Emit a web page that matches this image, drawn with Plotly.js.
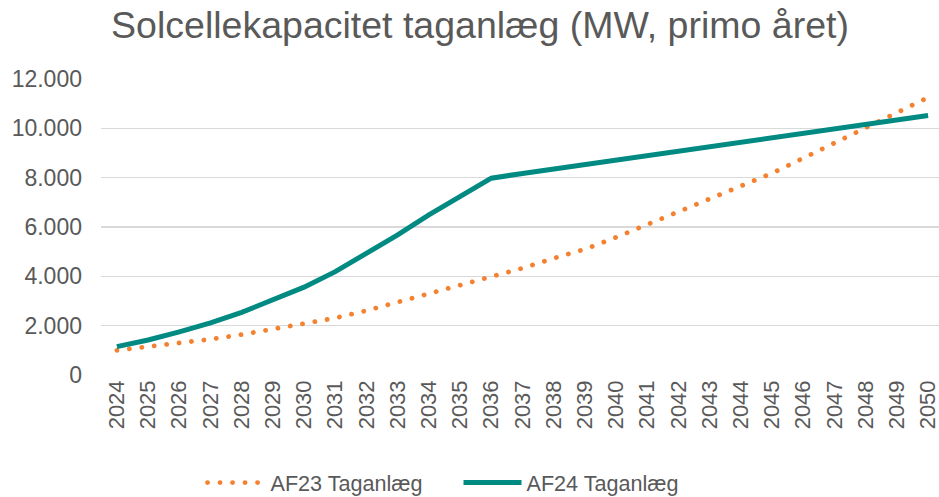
<!DOCTYPE html>
<html>
<head>
<meta charset="utf-8">
<script src="https://cdn.plot.ly/plotly-3.0.1.min.js"></script>
<style>
html,body{margin:0;padding:0;background:#fff;}
#chart{width:939px;height:497px;}
.scatterlayer .trace:first-child path.js-line { stroke-linecap: round; }
.legend .traces path.js-line { d: path("M5,0h58"); }
.legend .traces:first-child path.js-line { stroke-linecap: round; }
</style>
</head>
<body>
<div id="chart"></div>
<script>
const years = [2024,2025,2026,2027,2028,2029,2030,2031,2032,2033,2034,2035,2036,2037,2038,2039,2040,2041,2042,2043,2044,2045,2046,2047,2048,2049,2050];
const af23 = [1000,1150,1290,1450,1640,1870,2100,2310,2610,2950,3310,3630,3990,4330,4730,5100,5580,6100,6630,7120,7630,8180,8790,9400,9990,10630,11250];
const af24 = [1150,1420,1750,2110,2540,3060,3560,4190,4930,5680,6490,7220,7980,8170,8350,8530,8710,8890,9070,9250,9430,9610,9790,9970,10150,10330,10520];
const seriesNames = ["AF23 Taganlæg","AF24 Taganlæg"];
const titleText = "Solcellekapacitet taganlæg (MW, primo året)";

const traces = [
  {x: years, y: af23, name: seriesNames[0], type: 'scatter', mode: 'lines',
   line: {color: '#F4812F', width: 4.8, dash: '0.1px,12.4px'}},
  {x: years, y: af24, name: seriesNames[1], type: 'scatter', mode: 'lines',
   line: {color: '#008A82', width: 5}}
];

const layout = {
  width: 939, height: 497,
  margin: {l: 101, r: 0, t: 79, b: 122},
  paper_bgcolor: '#fff', plot_bgcolor: '#fff',
  separators: ',.',
  font: {family: 'Liberation Sans, Arial, sans-serif', color: '#595959'},
  title: {text: titleText, font: {size: 37.5, color: '#595959'},
          xref: 'container', x: 480/939, xanchor: 'center',
          yref: 'container', y: 1 - 25/497, yanchor: 'middle'},
  xaxis: {range: [2023.49, 2050.35], tickvals: years, ticktext: years.map(String), tickangle: -90,
          showgrid: false, zeroline: false, showline: false, ticks: '',
          ticklabeloverflow: 'allow', automargin: false,
          tickfont: {size: 22, color: '#595959'}},
  yaxis: {range: [0, 12000], dtick: 2000, tickformat: ',d',
          showgrid: true, gridcolor: '#D9D9D9', gridwidth: 1.5,
          zeroline: false, showline: false, ticks: '',
          tickfont: {size: 23, color: '#595959'}, ticklabelstandoff: 18},
  showlegend: true,
  legend: {orientation: 'h', xref: 'container', yref: 'container',
           x: 458.5/939, xanchor: 'center', y: 1 - 483/497, yanchor: 'middle',
           font: {size: 21.6, color: '#595959'}, itemwidth: 58, entrywidth: 183},
};

Plotly.newPlot('chart', traces, layout, {displayModeBar: false, staticPlot: true});
</script>
</body>
</html>
